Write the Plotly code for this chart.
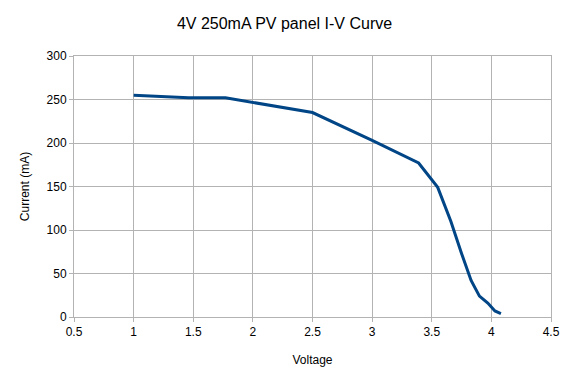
import plotly.graph_objects as go

voltage = [1.0, 1.46, 1.77, 2.5, 3.0, 3.39, 3.55, 3.66, 3.75, 3.83, 3.9, 3.97, 4.03, 4.08]
current = [255, 252, 252, 235, 203, 177, 149, 110, 73, 42, 24, 16, 7, 4]

fig = go.Figure(go.Scatter(x=voltage, y=current, mode="lines",
                           line=dict(color="#004586", width=3)))
grid = "#b3b3b3"
fig.update_layout(
    width=569, height=383,
    margin=dict(l=74, r=18, t=56, b=66),
    paper_bgcolor="white", plot_bgcolor="white",
    font=dict(family="Liberation Sans, Arial, sans-serif", size=12, color="black"),
    title=dict(text="4V 250mA PV panel I-V Curve", x=0.5, xanchor="center", y=0.94, yanchor="middle",
               font=dict(size=16)),
    showlegend=False,
    xaxis=dict(range=[0.5, 4.5], dtick=0.5, tick0=0.5, showgrid=True, gridcolor=grid, zeroline=False,
               showline=True, linecolor=grid, mirror=True, ticks="outside", tickcolor=grid, ticklen=4,
               automargin=False,
               title=dict(text="Voltage", font=dict(size=12), standoff=17)),
    yaxis=dict(range=[0, 300], dtick=50, showgrid=True, gridcolor=grid, zeroline=False,
               showline=True, linecolor=grid, mirror=True, ticks="outside", tickcolor=grid, ticklen=4,
               automargin=False,
               title=dict(text="Current (mA)", font=dict(size=12), standoff=14)),
)
fig.write_html("out.html", config={"displayModeBar": False},
               post_script="document.body.style.margin='0px';")
